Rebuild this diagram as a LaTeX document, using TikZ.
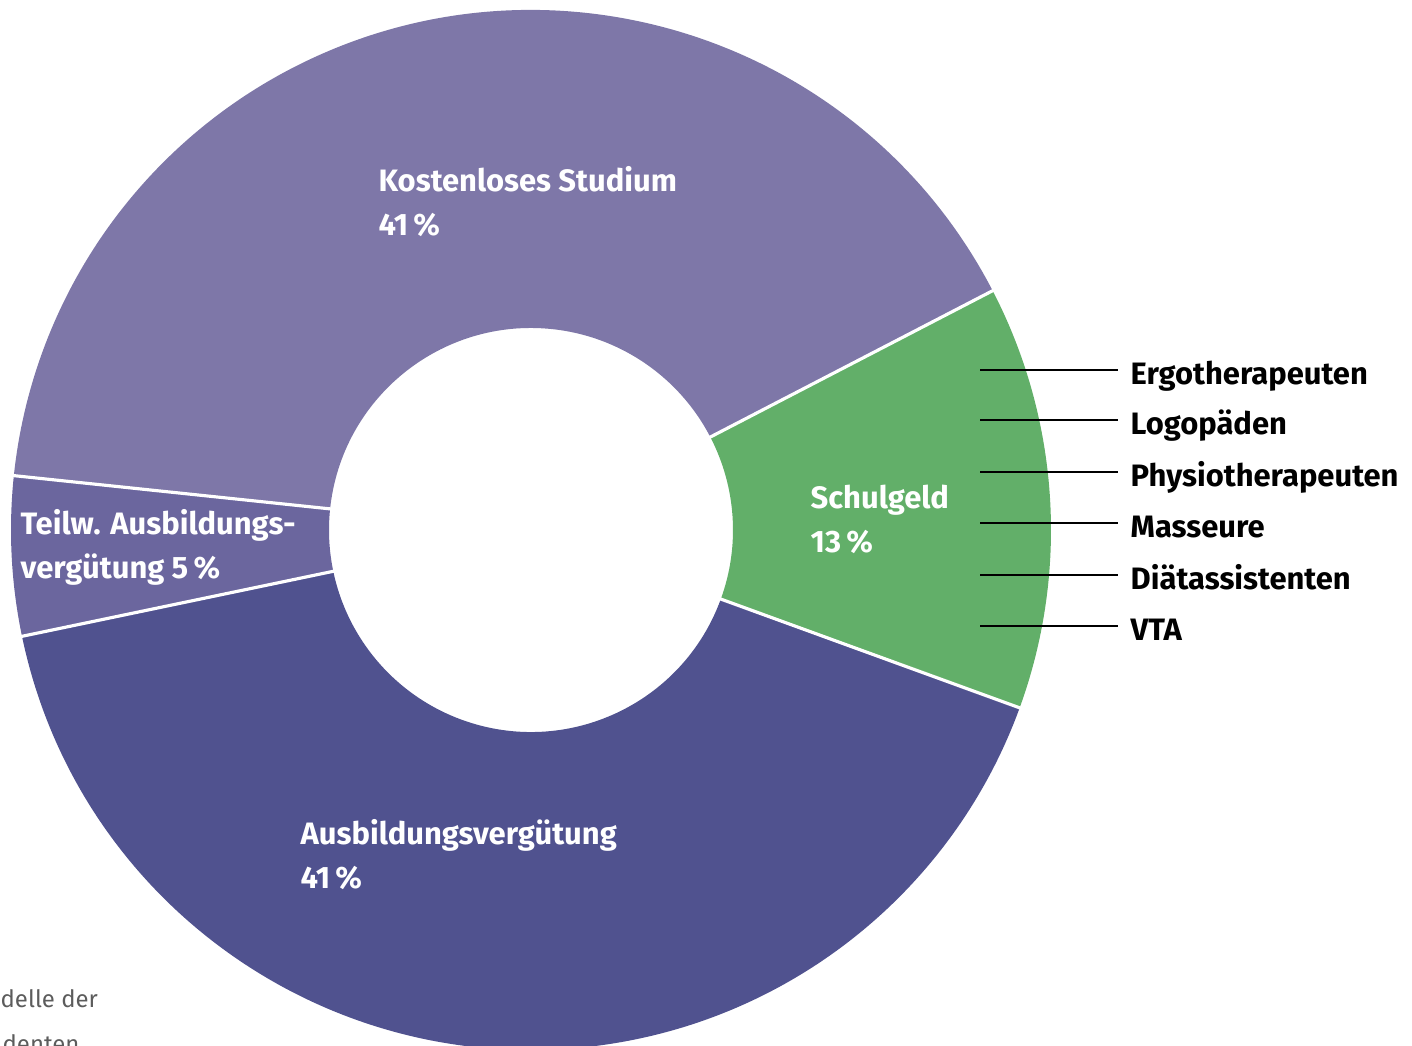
\documentclass[tikz,border=0pt]{standalone}
\usepackage{fontspec}
\setmainfont{Fira Sans}
\definecolor{kostenlos}{HTML}{7E77A8}
\definecolor{teilw}{HTML}{6B669E}
\definecolor{ausbildung}{HTML}{50528F}
\definecolor{schulgeld}{HTML}{62AF69}
\definecolor{grautext}{HTML}{5C5C5C}
\newcommand{\ringteil}[3]{\fill[#1] (#2:520) arc (#2:#3:520) -- (#3:202) arc (#3:#2:202) -- cycle;}
\tikzset{
  wert/.style={text=white, font=\bfseries\fontsize{8.8}{12.5}\selectfont, align=left, anchor=north west, inner sep=0pt},
  beruf/.style={font=\bfseries\fontsize{8.8}{12.5}\selectfont, anchor=west, inner xsep=.12cm, inner ysep=0pt, text height=.8em, text depth=0pt},
  rest/.style={text=grautext, font=\fontsize{6.8}{8}\selectfont, anchor=base west, inner sep=0pt},
}
\begin{document}
\begin{tikzpicture}[x=.01cm, y=.01cm]
\useasboundingbox (-531,-516) rectangle (881,530);
% Ring
\ringteil{kostenlos}{27.4}{174}
\ringteil{teilw}{174}{191.8}
\ringteil{ausbildung}{191.8}{340}
\ringteil{schulgeld}{-20}{27.4}
\foreach \w in {27.4,174,191.8,340}
  \draw[white, line width=.9pt](\w:200)--(\w:523);
% Beschriftung
\node[wert](kost) at (-153,364){Kostenloses Studium\\41\,\%};
\node[wert](teil) at (-511,21){Teilw. Ausbildungs-\\vergütung 5\,\%};
\node[wert](ausb) at (-231,-289){Ausbildungsvergütung\\41\,\%};
\node[wert](schul) at (279,46){Schulgeld\\13\,\%};
% Berufe
\foreach \i/\y/\name in {1/160/Ergotherapeuten, 2/110/Logopäden, 3/58/Physiotherapeuten,
    4/7/Masseure, 5/-45/Diätassistenten, 6/-96/VTA}{
  \coordinate(b\i) at (449,\y);
  \node[beruf](beruf\i) at (587,\y){\name};
  \draw[line width=.75pt](b\i)--(beruf\i.west);
}
\node[rest](rest1) at (-531,-478){delle der};
\node[rest](rest2) at (-529,-522){denten};
\end{tikzpicture}
\end{document}
